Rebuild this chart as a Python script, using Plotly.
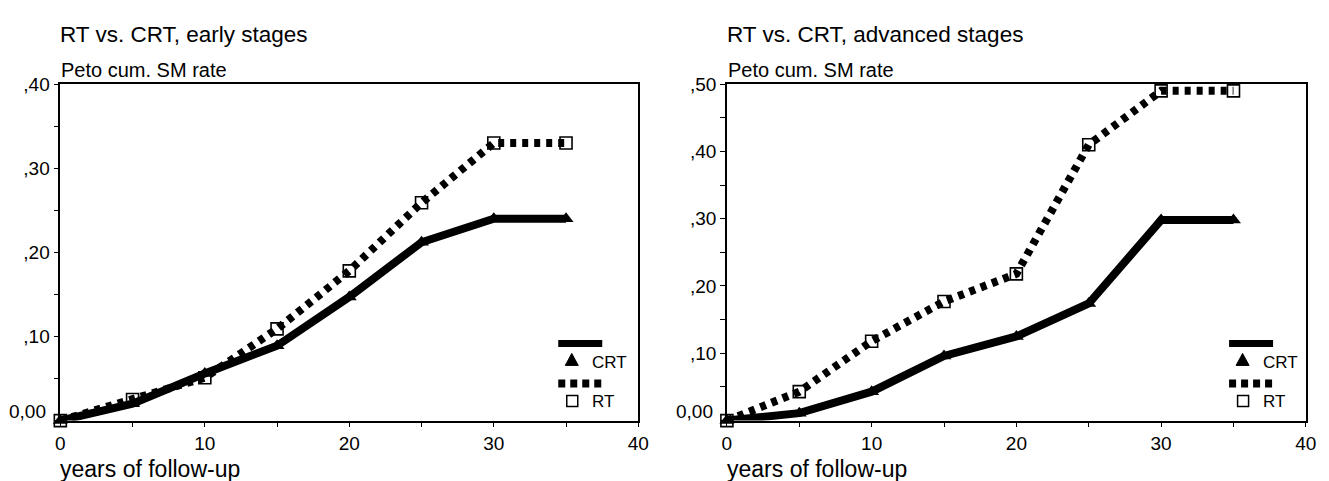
import plotly.graph_objects as go

# Follow-up time (years)
years = [0, 5, 10, 15, 20, 25, 30, 35]

# Early stages: Peto cumulative second-malignancy rate
early_crt = [0.0, 0.020, 0.056, 0.089, 0.147, 0.212, 0.240, 0.240]
early_rt = [0.0, 0.025, 0.051, 0.109, 0.178, 0.259, 0.330, 0.330]

# Advanced stages
adv_crt = [0.0, 0.011, 0.043, 0.096, 0.125, 0.174, 0.298, 0.298]
adv_rt = [0.0, 0.043, 0.118, 0.177, 0.218, 0.410, 0.490, 0.490]

panel_titles = ["RT vs. CRT, early stages", "RT vs. CRT, advanced stages"]
y_title = "Peto cum. SM rate"
x_title = "years of follow-up"
series_names = ["CRT", "RT"]

x_ticks = [0, 5, 10, 15, 20, 25, 30, 35, 40]
x_ticktext = ["0", "", "10", "", "20", "", "30", "", "40"]
early_yticks = [0.0, 0.05, 0.10, 0.15, 0.20, 0.25, 0.30, 0.35, 0.40]
early_yticktext = ["", "", ",10", "", ",20", "", ",30", "", ",40"]
adv_yticks = [0.0, 0.05, 0.10, 0.15, 0.20, 0.25, 0.30, 0.35, 0.40, 0.45, 0.50]
adv_yticktext = ["", "", ",10", "", ",20", "", ",30", "", ",40", "", ",50"]
zero_label = "0,00"

W, H = 1329, 481
FONT = "Liberation Sans, Arial, sans-serif"

# pixel geometry of the two plotting boxes
left_px = [(56, 641), (730.7, 1316.7)]
top_px, bottom_px = 75.7, 419.3


def px_x(p):
    return p / W


def px_y(p):
    return 1 - p / H


fig = go.Figure()

panels = [
    (early_crt, early_rt, early_yticks, early_yticktext, 0.40, "x", "y"),
    (adv_crt, adv_rt, adv_yticks, adv_yticktext, 0.50, "x2", "y2"),
]

for i, (crt, rt, yt, ytt, ymax, xa, ya) in enumerate(panels):
    # RT: thick dotted line with open squares
    fig.add_trace(go.Scatter(
        x=years, y=rt, xaxis=xa, yaxis=ya, mode="lines+markers",
        name=series_names[1], showlegend=False, cliponaxis=False,
        line=dict(color="black", width=8, dash="6px,6px"),
        marker=dict(symbol="square-open", size=12, color="black",
                    line=dict(width=1.6, color="black")),
    ))
    # CRT: thick solid line with filled triangles
    fig.add_trace(go.Scatter(
        x=years, y=crt, xaxis=xa, yaxis=ya, mode="lines+markers",
        name=series_names[0], showlegend=False, cliponaxis=False,
        line=dict(color="black", width=8),
        marker=dict(symbol="triangle-up", size=13, color="black"),
    ))

    l, r = left_px[i]
    axis_common = dict(
        showline=True, linecolor="black", linewidth=1.5, mirror=True,
        showgrid=False, zeroline=False, ticks="outside", ticklen=5,
        tickwidth=1.3, tickcolor="black",
        tickfont=dict(family=FONT, size=19, color="black"),
    )
    suffix = "" if i == 0 else "2"
    fig.update_layout(**{
        "xaxis" + suffix: dict(
            axis_common, domain=[px_x(l), px_x(r)], range=[0, 40],
            tickmode="array", tickvals=x_ticks, ticktext=x_ticktext,
            anchor=ya,
        ),
        "yaxis" + suffix: dict(
            axis_common, domain=[px_y(bottom_px), px_y(top_px)],
            range=[0, ymax], tickmode="array", tickvals=yt, ticktext=ytt,
            anchor=xa,
        ),
    })

    # panel title and axis titles
    fig.add_annotation(text=panel_titles[i], xref="paper", yref="paper",
                       x=px_x(l - 2), y=px_y(25), xanchor="left",
                       yanchor="middle", showarrow=False,
                       font=dict(family=FONT, size=22.5, color="black"))
    fig.add_annotation(text=y_title, xref="paper", yref="paper",
                       x=px_x(l - 1), y=px_y(61), xanchor="left",
                       yanchor="middle", showarrow=False,
                       font=dict(family=FONT, size=20, color="black"))
    fig.add_annotation(text=x_title, xref="paper", yref="paper",
                       x=px_x(l - 2), y=px_y(469), xanchor="left",
                       yanchor="middle", showarrow=False,
                       font=dict(family=FONT, size=23, color="black"))
    # the zero label sits a little above the x axis
    fig.add_annotation(text=zero_label, xref=xa + " domain", yref=ya,
                       x=0, y=0, xanchor="right", yanchor="middle",
                       xshift=-12, yshift=9, showarrow=False,
                       font=dict(family=FONT, size=19, color="black"))

    # legend drawn inside the plotting box, in pixel offsets from an anchor
    ax = (504 if i == 0 else 508.3) / (r - l)
    ay = (bottom_px - 340.5) / (bottom_px - top_px)
    xd, yd = xa + " domain", ya + " domain"
    common = dict(xref=xd, yref=yd, xsizemode="pixel", ysizemode="pixel",
                  xanchor=ax, yanchor=ay)
    fig.add_shape(type="line", x0=0, x1=44, y0=0, y1=0,
                  line=dict(color="black", width=7), **common)
    fig.add_shape(type="path", path="M 7,-22 L 20,-22 L 13.5,-10 Z",
                  fillcolor="black", line=dict(color="black", width=1),
                  **common)
    fig.add_shape(type="line", x0=0, x1=44, y0=-40, y1=-40,
                  line=dict(color="black", width=8, dash="7px,5px"),
                  **common)
    fig.add_shape(type="rect", x0=8.5, x1=19.5, y0=-63, y1=-52,
                  fillcolor="white", line=dict(color="black", width=1.5),
                  **common)
    for name, dy in [(series_names[0], -19), (series_names[1], -58)]:
        fig.add_annotation(text=name, xref=xd, yref=yd, x=ax, y=ay,
                           xanchor="left", yanchor="middle", xshift=32,
                           yshift=dy, showarrow=False,
                           font=dict(family=FONT, size=17, color="black"))

fig.update_layout(
    width=W, height=H, margin=dict(l=0, r=0, t=0, b=0),
    paper_bgcolor="white", plot_bgcolor="white", showlegend=False,
)

fig.write_html("out.html")
